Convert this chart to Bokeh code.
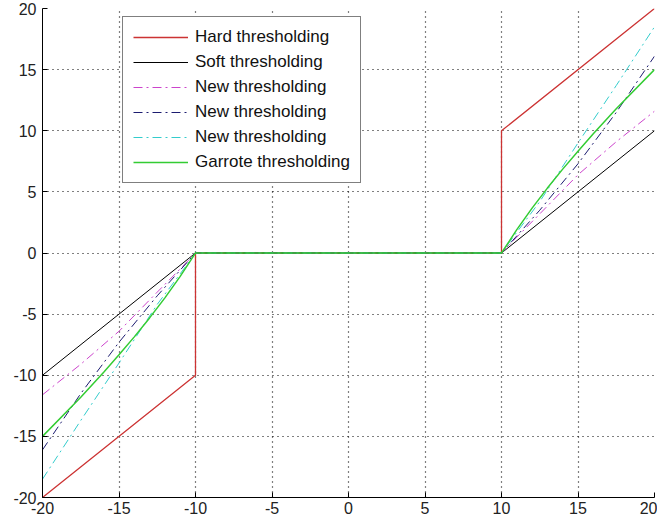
from bokeh.plotting import figure
from bokeh.models import Legend, LegendItem, FixedTicker
from bokeh.embed import file_html
from bokeh.resources import INLINE

# Sample points of each thresholding function (x = input coefficient)
x_hard = [-20, -10, -10, 10, 10, 20]
y_hard = [-20, -10, 0, 0, 10, 20]

x_soft = [-20, -10, 10, 20]
y_soft = [-10, 0, 0, 10]

x_curve = [-20, -17.5, -15, -12.5, -11, -10, 10, 11, 12.5, 15, 17.5, 20]
y_new1 = [-11.6, -9.1, -6.4, -3.2, -1.3, 0, 0, 1.3, 3.2, 6.4, 9.1, 11.6]
y_new2 = [-16.1, -11.5, -7.3, -3.5, -1.4, 0, 0, 1.4, 3.5, 7.3, 11.5, 16.1]
y_new3 = [-18.5, -13.7, -9.0, -4.2, -1.7, 0, 0, 1.7, 4.2, 9.0, 13.7, 18.5]

x_garrote = [-20, -17.5, -16, -15, -14, -13, -12, -11, -10,
             10, 11, 12, 13, 14, 15, 16, 17.5, 20]
y_garrote = [-15.0, -11.8, -9.75, -8.33, -6.86, -5.31, -3.67, -1.91, 0,
             0, 1.91, 3.67, 5.31, 6.86, 8.33, 9.75, 11.8, 15.0]

labels = ["Hard thresholding", "Soft thresholding", "New thresholding",
          "New thresholding", "New thresholding", "Garrote thresholding"]
ticks = [-20, -15, -10, -5, 0, 5, 10, 15, 20]
tick_text = ["-20", "-15", "-10", "-5", "0", "5", "10", "15", "20"]

p = figure(width=657, height=522, output_backend="svg", toolbar_location=None,
           x_range=(-20, 20), y_range=(-20, 20),
           min_border_left=42, min_border_right=3,
           min_border_top=8, min_border_bottom=25)
p.outline_line_color = None
p.background_fill_color = "white"
p.border_fill_color = "white"

for ax in (p.xaxis[0], p.yaxis[0]):
    ax.ticker = FixedTicker(ticks=ticks)
    ax.major_label_overrides = {t: s for t, s in zip(ticks, tick_text)}
    ax.major_tick_in = 5
    ax.major_tick_out = 0
    ax.minor_tick_in = 0
    ax.minor_tick_out = 0
    ax.axis_line_color = "black"
    ax.major_tick_line_color = "black"
    ax.major_label_text_font = "Liberation Sans"
    ax.major_label_text_font_size = "16px"
    ax.major_label_text_color = "#222222"
p.xaxis[0].major_label_standoff = 4
p.yaxis[0].major_label_standoff = 6

for g in (p.xgrid[0], p.ygrid[0]):
    g.ticker = FixedTicker(ticks=ticks)
    g.grid_line_color = "black"
    g.grid_line_dash = "1 4"
    g.grid_line_width = 1.2

r_hard = p.line(x_hard, y_hard, line_color="#cc3333", line_width=1.3)
r_soft = p.line(x_soft, y_soft, line_color="black", line_width=1.0)
r_n1 = p.line(x_curve, y_new1, line_color="#cc44cc", line_width=1.0, line_dash="9 4 2 4")
r_n2 = p.line(x_curve, y_new2, line_color="#1c1c70", line_width=1.0, line_dash="9 4 2 4")
r_n3 = p.line(x_curve, y_new3, line_color="#33cccc", line_width=1.0, line_dash="9 4 2 4")
r_gar = p.line(x_garrote, y_garrote, line_color="#33cc33", line_width=1.5)

legend = Legend(items=[LegendItem(label=l, renderers=[r]) for l, r in
                       zip(labels, [r_hard, r_soft, r_n1, r_n2, r_n3, r_gar])],
                location=(80, 314),
                label_text_font="Liberation Sans", label_text_font_size="17px",
                label_text_color="#111111",
                label_height=20, glyph_height=20, glyph_width=55,
                spacing=5, padding=10, margin=0, label_standoff=7,
                border_line_color="black", border_line_width=1,
                background_fill_color="white", background_fill_alpha=1.0)
p.add_layout(legend, "center")

open("out.html", "w").write(file_html(p, INLINE))
